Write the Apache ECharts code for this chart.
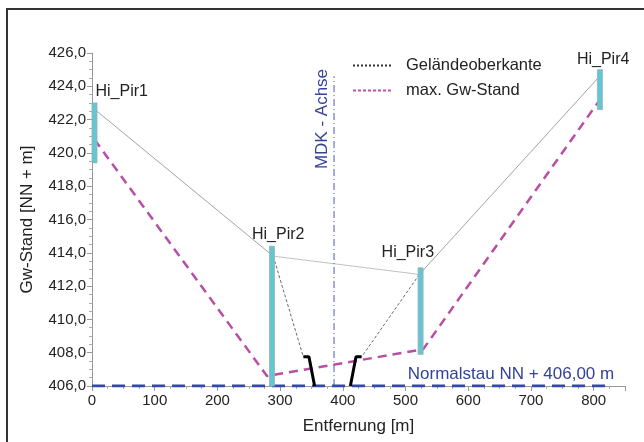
<!DOCTYPE html>
<html><head><meta charset="utf-8">
<script src="https://cdn.jsdelivr.net/npm/echarts@6/dist/echarts.min.js"></script>
<style>html,body{margin:0;padding:0;background:#fff}#c{width:644px;height:442px}</style>
</head><body><div id="c"></div>
<script>
// ---- data ----
const xTicks = [0,100,200,300,400,500,600,700,800];
const yTicks = [406,408,410,412,414,416,418,420,422,424,426];
const groundLeft  = [[8,422.5],[289,413.8]];
const groundMid   = [[289,413.8],[522,412.7]];
const groundRight = [[522,412.7],[807,424.5]];
const maxGw = [[4,420.8],[279,406.6],[528,408.2],[810,423.2]];
const slopeLeft  = [[289,413.8],[337,407.75]];
const slopeRight = [[522,412.7],[430,407.75]];
const bankLeft  = [[337,407.75],[346,407.75],[355,406.0]];
const bankRight = [[412,406.0],[421,407.75],[430,407.75]];
const normalstau = [[0,406.0],[820,406.0]];
const mdkAxis = [[386,406.0],[386,424.6]];
const piers = ['Hi_Pir1','Hi_Pir2','Hi_Pir3','Hi_Pir4'];
const pierX = [4,287,524,810];
const pierLow = [419.4,406.0,407.9,422.6];
const pierHigh = [423.0,414.4,413.1,425.0];

const FONT = '"Liberation Sans", Arial, sans-serif';
const fmtY = v => v.toFixed(1).replace('.', ',');
const pierData = piers.map((n,i)=>[pierX[i],pierLow[i],pierHigh[i],i]);
const labelDx = [1, -20, -39, -23];
const labelDy = [-11, -12, -15, -10];

const chart = echarts.init(document.getElementById('c'));
chart.setOption({
  animation:false,
  backgroundColor:'#fff',
  grid:{left:92, right:19, top:53, bottom:56},
  legend:{
    orient:'vertical', left:352, top:57, padding:0, itemWidth:40, itemHeight:18, itemGap:8,
    data:['Geländeoberkante','max. Gw-Stand'],
    itemStyle:{opacity:0},
    textStyle:{fontFamily:FONT, fontSize:16.5, color:'#222', padding:[0,0,0,8]}
  },
  xAxis:{
    type:'value', min:0, max:850, interval:100,
    name:'Entfernung [m]', nameLocation:'middle', nameGap:32,
    nameTextStyle:{fontFamily:FONT, fontSize:17, color:'#222'},
    axisLine:{show:true, lineStyle:{color:'#999', width:1}},
    axisTick:{show:true, length:5, lineStyle:{color:'#999'}},
    minorTick:{show:true, splitNumber:4, length:3, lineStyle:{color:'#aaa'}},
    splitLine:{show:false},
    axisLabel:{fontFamily:FONT, fontSize:15, color:'#222', margin:7,
      formatter:v => xTicks.indexOf(v) >= 0 ? String(v) : ''}
  },
  yAxis:{
    type:'value', min:406, max:426, interval:2,
    name:'Gw-Stand [NN + m]', nameLocation:'middle', nameGap:56,
    nameTextStyle:{fontFamily:FONT, fontSize:17, color:'#222'},
    axisLine:{show:true, lineStyle:{color:'#999', width:1}},
    axisTick:{show:true, length:5, lineStyle:{color:'#999'}},
    minorTick:{show:true, splitNumber:4, length:3, lineStyle:{color:'#aaa'}},
    splitLine:{show:false},
    axisLabel:{fontFamily:FONT, fontSize:15, color:'#222', margin:6,
      formatter:v => yTicks.indexOf(v) >= 0 ? fmtY(v) : ''}
  },
  graphic:[
    {type:'polyline', shape:{points:[[7,460],[7,9],[660,9]]}, style:{fill:'none', stroke:'#333', lineWidth:2}, z:100},
    {type:'text', x:322, y:119, rotation:Math.PI/2, style:{text:'MDK - Achse', fill:'#33429a', font:'17px '+FONT, textAlign:'center', textVerticalAlign:'middle'}, z:100}
  ],
  series:[
    {name:'Geländeoberkante', type:'line', data:[], symbol:'none', color:'#333', lineStyle:{color:'#333', width:1, type:[2,2]}},
    {name:'max. Gw-Stand', type:'line', data:[], symbol:'none', color:'#c050a8', lineStyle:{color:'#c050a8', width:1, type:[3,2]}},
    {type:'line', data:groundLeft, symbol:'none', lineStyle:{color:'#999', width:0.9}, z:2},
    {type:'line', data:groundMid, symbol:'none', lineStyle:{color:'#bbb', width:0.9}, z:2},
    {type:'line', data:groundRight, symbol:'none', lineStyle:{color:'#999', width:0.9}, z:2},
    {type:'line', data:slopeLeft, symbol:'none', lineStyle:{color:'#444', width:0.8, type:[3,2]}, z:2},
    {type:'line', data:slopeRight, symbol:'none', lineStyle:{color:'#444', width:0.8, type:[3,2]}, z:2},
    {type:'line', data:maxGw, symbol:'none', lineStyle:{color:'#b94ea6', width:2.5, type:[9,6]}, z:3},
    {type:'line', data:mdkAxis, symbol:'none', lineStyle:{color:'#4a5ab0', width:1, type:[7,3,1,3]}, z:3},
    {type:'line', data:normalstau, symbol:'none', lineStyle:{color:'#3448aa', width:3, type:[13,7]}, z:4},
    {type:'line', data:bankLeft, symbol:'none', lineStyle:{color:'#000', width:3}, z:5},
    {type:'line', data:bankRight, symbol:'none', lineStyle:{color:'#000', width:3}, z:5},
    {type:'custom', data:pierData, z:6,
      renderItem:(params, api)=>{
        const top = api.coord([api.value(0), api.value(2)]);
        const bot = api.coord([api.value(0), api.value(1)]);
        const i = api.value(3);
        return {type:'group', children:[
          {type:'rect', shape:{x:top[0]-2.5, y:top[1], width:5, height:bot[1]-top[1]},
           style:{fill:'#63c7d3', stroke:'#9aaeb2', lineWidth:0.8}},
          {type:'text', x:top[0]+labelDx[i], y:top[1]+labelDy[i],
           style:{text:piers[i], fill:'#222', font:'16px '+FONT, textAlign:'left', textVerticalAlign:'middle'}}
        ]};
      }},
    {type:'custom', data:[[820,406.0]], z:7,
      renderItem:(params, api)=>{
        const p = api.coord([api.value(0), api.value(1)]);
        return {type:'text', x:p[0]+8, y:p[1]-12,
          style:{text:'Normalstau NN + 406,00 m', fill:'#33429a', font:'17px '+FONT, textAlign:'right', textVerticalAlign:'middle'}};
      }}
  ]
});
</script></body></html>
